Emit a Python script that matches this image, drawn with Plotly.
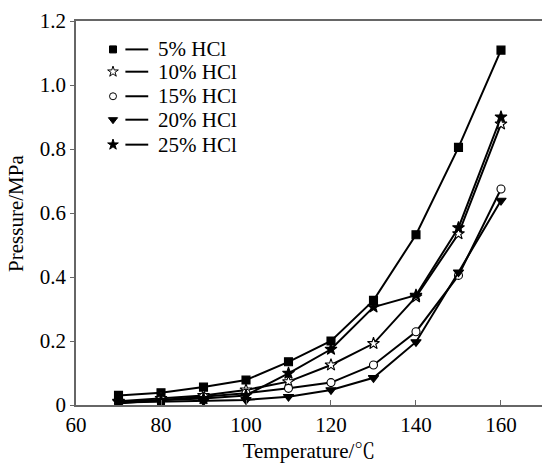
import plotly.graph_objects as go

temperature = [70, 80, 90, 100, 110, 120, 130, 140, 150, 160]
series_names = ["5% HCl", "10% HCl", "15% HCl", "20% HCl", "25% HCl"]
p5 = [0.030, 0.038, 0.056, 0.078, 0.135, 0.200, 0.327, 0.532, 0.805, 1.109]
p10 = [0.012, 0.020, 0.030, 0.047, 0.073, 0.125, 0.192, 0.338, 0.535, 0.878]
p15 = [0.005, 0.016, 0.025, 0.037, 0.052, 0.070, 0.125, 0.229, 0.405, 0.675]
p20 = [0.008, 0.010, 0.012, 0.016, 0.026, 0.047, 0.085, 0.197, 0.415, 0.639]
p25 = [0.010, 0.014, 0.020, 0.030, 0.099, 0.174, 0.306, 0.343, 0.554, 0.900]
x_ticks = [60, 80, 100, 120, 140, 160]
y_ticks = [0, 0.2, 0.4, 0.6, 0.8, 1.0, 1.2]
y_tick_text = ["0", "0.2", "0.4", "0.6", "0.8", "1.0", "1.2"]

values = [p5, p10, p15, p20, p25]
symbols = ["square", "star", "circle", "triangle-down", "star"]
fills = ["black", "white", "white", "black", "black"]
sizes = [8, 9, 8, 9, 9]

FONT = "Liberation Serif, Times New Roman, Noto Serif CJK SC, serif"
FS = 21
fig = go.Figure()
for name, vals, sym, fc, sz in zip(series_names, values, symbols, fills, sizes):
    fig.add_trace(go.Scatter(
        x=temperature, y=vals, name=name, mode="lines+markers",
        line=dict(color="black", width=2),
        marker=dict(symbol=sym, size=sz, color=fc, line=dict(color="black", width=1.1)),
        showlegend=False,
    ))

# hand-built legend: marker, short line, label
leg_y = [0.926, 0.868, 0.804, 0.743, 0.678]
for name, sym, fc, sz, yy in zip(series_names, symbols, fills, sizes, leg_y):
    fig.add_trace(go.Scatter(
        x=[0.0794], y=[yy], mode="markers", xaxis="x2", yaxis="y2",
        marker=dict(symbol=sym, size=sz - 1, color=fc, line=dict(color="black", width=1)),
        showlegend=False, hoverinfo="skip",
    ))
    fig.add_shape(type="line", xref="paper", yref="paper",
                  x0=0.106, x1=0.155, y0=yy, y1=yy,
                  line=dict(color="black", width=2))
    fig.add_annotation(text=name, xref="paper", yref="paper", x=0.172, y=yy,
                       xanchor="left", yanchor="middle", showarrow=False,
                       font=dict(family=FONT, size=FS, color="black"))

# y-axis title placed a little further left than plotly's minimum standoff allows
fig.add_annotation(text="Pressure/MPa", xref="paper", yref="paper",
                   x=-0.129, y=0.5, textangle=-90, showarrow=False,
                   xanchor="center", yanchor="middle",
                   font=dict(family=FONT, size=FS, color="black"))

fig.update_layout(
    width=542, height=463,
    margin=dict(l=76, r=0, t=21, b=58),
    paper_bgcolor="white", plot_bgcolor="white",
    font=dict(family=FONT, size=FS, color="black"),
    xaxis=dict(
        range=[60, 169.65], tickvals=x_ticks, ticks="inside", ticklen=5,
        tickcolor="#666", showline=True, linecolor="#666", linewidth=1.5,
        mirror=True, showgrid=False, zeroline=False, automargin=False,
        title=dict(text="Temperature/℃", font=dict(family=FONT, size=FS), standoff=8),
        tickfont=dict(family=FONT, size=FS),
    ),
    yaxis=dict(
        range=[0, 1.2], tickvals=y_ticks, ticktext=y_tick_text, ticks="outside",
        ticklen=4, tickcolor="#666", showline=True, linecolor="#666", linewidth=1.5,
        showgrid=False, zeroline=False, automargin=False,
        tickfont=dict(family=FONT, size=FS),
    ),
    xaxis2=dict(overlaying="x", range=[0, 1], visible=False),
    yaxis2=dict(overlaying="y", range=[0, 1], visible=False),
)

fig.write_html(
    "out.html",
    config={"displayModeBar": False},
    post_script="document.body.style.margin='0';document.body.style.overflow='hidden';",
)
